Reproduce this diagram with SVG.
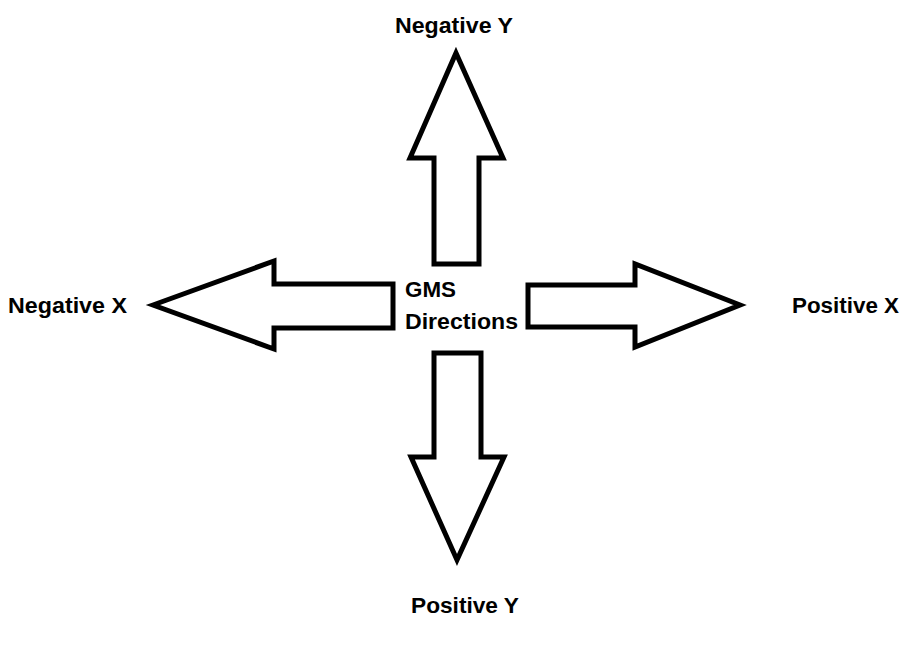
<svg xmlns="http://www.w3.org/2000/svg" width="916" height="649" viewBox="0 0 916 649">
<style>
.arrow{fill:#fff;stroke:#000;stroke-width:5;stroke-linejoin:miter;stroke-miterlimit:10}
.lbl{font-family:"Liberation Sans",Arial,sans-serif;font-weight:bold;font-size:22px;fill:#000}
</style>
<rect width="916" height="649" fill="#fff"/>
<g id="connectors">
<polygon id="arrow-up" class="arrow" points="456,53 503,158 479,158 479,264 434,264 434,158 410,158"/>
<polygon id="arrow-left" class="arrow" points="153,305 274,261 274,284 393,284 393,328 274,328 274,349"/>
<polygon id="arrow-right" class="arrow" points="528,285 635,285 635,264 740,305 635,347 635,327 528,327"/>
<polygon id="arrow-down" class="arrow" points="434,353 481,353 481,457 504,457 457,560 411,457 434,457"/>
</g>
<g id="center">
<text class="lbl" x="405" y="297" textLength="51" lengthAdjust="spacingAndGlyphs">GMS</text>
<text class="lbl" x="405" y="329" textLength="113" lengthAdjust="spacingAndGlyphs">Directions</text>
</g>
<g id="negative-y"><text class="lbl" x="395" y="33" textLength="118" lengthAdjust="spacingAndGlyphs">Negative Y</text></g>
<g id="negative-x"><text class="lbl" x="8" y="313" textLength="119" lengthAdjust="spacingAndGlyphs">Negative X</text></g>
<g id="positive-x"><text class="lbl" x="792" y="313" textLength="107" lengthAdjust="spacingAndGlyphs">Positive X</text></g>
<g id="positive-y"><text class="lbl" x="411" y="613" textLength="108" lengthAdjust="spacingAndGlyphs">Positive Y</text></g>
</svg>
